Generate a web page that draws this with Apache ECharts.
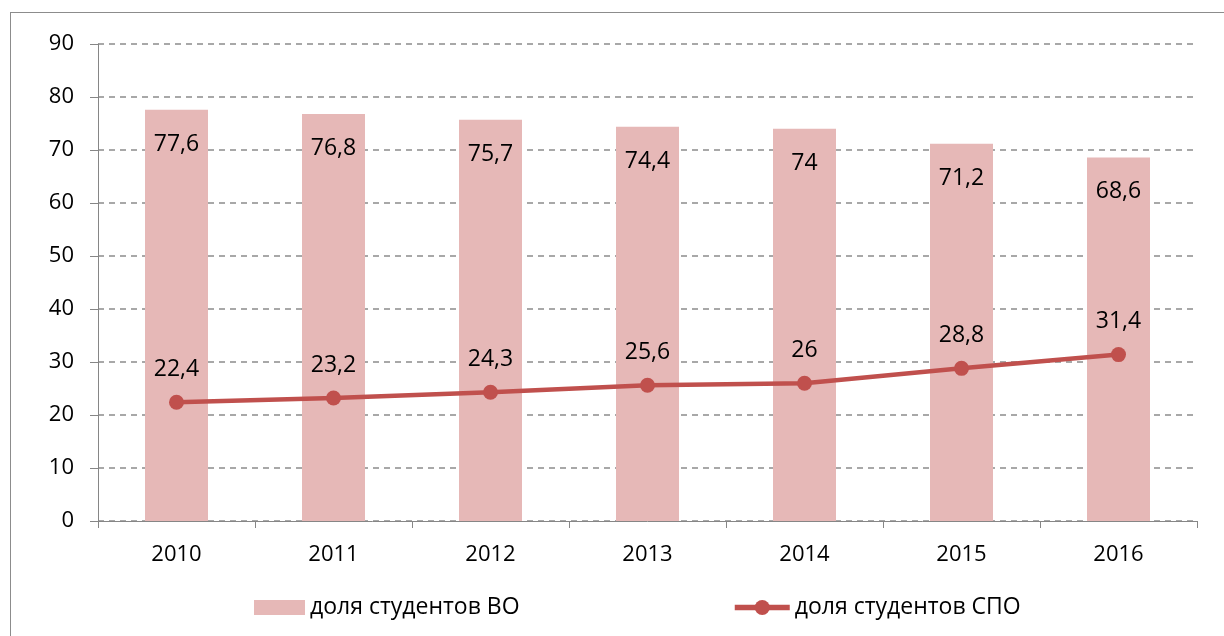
<!DOCTYPE html>
<html><head><meta charset="utf-8">
<script src="https://cdn.jsdelivr.net/npm/echarts@6/dist/echarts.min.js"></script>
<style>html,body{margin:0;padding:0;background:#fff;overflow:hidden}#c{width:1224px;height:636px}
#frame{position:absolute;left:10px;top:12px;width:1230px;height:640px;border:1px solid #8c8c8c;pointer-events:none}</style>
</head><body><div id="c"></div><div id="frame"></div>
<script>
const categories = ['2010','2011','2012','2013','2014','2015','2016'];
const voShare = [77.6, 76.8, 75.7, 74.4, 74, 71.2, 68.6];
const spoShare = [22.4, 23.2, 24.3, 25.6, 26, 28.8, 31.4];
const seriesNames = ['доля студентов ВО', 'доля студентов СПО'];
const fmt = p => String(p.value).replace('.', ',');
const font = 'Open Sans, Liberation Sans, sans-serif';
const chart = echarts.init(document.getElementById('c'));
chart.setOption({
  animation: false,
  textStyle: {fontFamily: font},
  grid: {left: 98, right: 27, top: 44, bottom: 115},
  legend: [
    {data: [seriesNames[0]], left: 249, top: 591, itemWidth: 51, itemHeight: 15,
     textStyle: {fontSize: 23, color: '#000', fontFamily: font}, icon: 'rect'},
    {data: [seriesNames[1]], left: 727, top: 591, itemWidth: 55, itemHeight: 19,
     lineStyle: {width: 5.5},
     textStyle: {fontSize: 23, color: '#000', fontFamily: font}}
  ],
  xAxis: {
    type: 'category', data: categories, boundaryGap: true,
    axisLine: {lineStyle: {color: '#868686', width: 1}},
    axisTick: {show: true, length: 7, inside: false, lineStyle: {color: '#868686'}},
    axisLabel: {fontSize: 22, color: '#000', margin: 23, fontFamily: font}
  },
  yAxis: {
    type: 'value', min: 0, max: 90, interval: 10,
    axisLine: {show: true, lineStyle: {color: '#868686'}},
    axisTick: {show: true, length: 8, lineStyle: {color: '#868686'}},
    axisLabel: {fontSize: 22, color: '#000', margin: 24, fontFamily: font},
    splitLine: {lineStyle: {color: '#8c8c8c', type: [6, 5], width: 1.5}}
  },
  series: [
    {name: seriesNames[0], type: 'bar', data: voShare, barWidth: 63,
     itemStyle: {color: '#e6b8b7'},
     label: {show: true, position: 'insideTop', distance: 23, fontSize: 23, color: '#000', formatter: fmt, fontFamily: font}},
    {name: seriesNames[1], type: 'line', data: spoShare,
     symbol: 'circle', symbolSize: 15,
     lineStyle: {color: '#c0504d', width: 4.5}, itemStyle: {color: '#c0504d'},
     label: {show: true, position: 'top', distance: 14, fontSize: 23, color: '#000', formatter: fmt, fontFamily: font}}
  ]
});
</script></body></html>
